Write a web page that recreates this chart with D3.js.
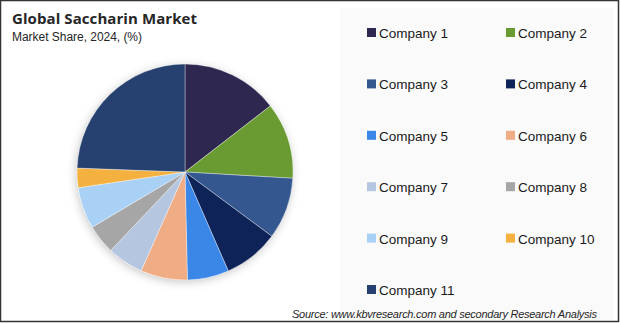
<!DOCTYPE html>
<html>
<head>
<meta charset="utf-8">
<script src="https://cdn.jsdelivr.net/npm/d3@7"></script>
<style>
  body { margin: 0; background: #fff; }
  svg { display: block; }
</style>
</head>
<body>
<script>
// market share values (percent)
var companies = ["Company 1", "Company 2", "Company 3", "Company 4", "Company 5", "Company 6",
                 "Company 7", "Company 8", "Company 9", "Company 10", "Company 11"];
var shares = [14.5, 11.4, 9.2, 8.3, 6.2, 7.0, 5.4, 4.4, 6.2, 2.9, 24.4];
var colors = ["#2e2750", "#6a9a32", "#34578f", "#0e2358", "#3a87e8", "#f0ad85",
              "#b5c6e0", "#a6a6a6", "#a9d0f5", "#f4b13f", "#26416f"];

var width = 620, height = 323;

var data = companies.map(function(c, i) { return { name: c, value: shares[i], color: colors[i] }; });

var svg = d3.select("body").append("svg")
    .attr("width", width)
    .attr("height", height);

var defs = svg.append("defs");
var f = defs.append("filter").attr("id", "shadow")
    .attr("x", "-20%").attr("y", "-20%").attr("width", "140%").attr("height", "140%");
f.append("feDropShadow").attr("dx", -1).attr("dy", 2)
    .attr("stdDeviation", 5).attr("flood-color", "#000").attr("flood-opacity", 0.22);

// legend panel
svg.append("rect")
    .attr("x", 340).attr("y", 8).attr("width", 274).attr("height", 312)
    .attr("fill", "#fafafa");

// title
svg.append("text")
    .attr("x", 12).attr("y", 24)
    .style("font-family", "'Open Sans', 'Liberation Sans', sans-serif")
    .style("font-weight", "bold")
    .style("font-size", "15px")
    .attr("fill", "#262626")
    .attr("textLength", 185)
    .text("Global Saccharin Market");

svg.append("text")
    .attr("x", 12).attr("y", 41)
    .style("font-family", "'Liberation Sans', sans-serif")
    .style("font-size", "12px")
    .attr("fill", "#262626")
    .attr("textLength", 130)
    .text("Market Share, 2024, (%)");

// pie
var radius = 108;
var pie = d3.pie().sort(null).value(function(d) { return d.value; });
var arc = d3.arc().innerRadius(0).outerRadius(radius);

var g = svg.append("g")
    .attr("transform", "translate(185,172)");

g.append("circle").attr("r", radius).attr("fill", "#fff").attr("filter", "url(#shadow)");

g.selectAll("path")
  .data(pie(data))
  .enter().append("path")
    .attr("d", arc)
    .attr("fill", function(d) { return d.data.color; })
    .attr("stroke", "rgba(255,255,255,0.45)")
    .attr("stroke-width", 0.8);

// legend, 2 columns
var legend = svg.append("g").selectAll("g")
  .data(data)
  .enter().append("g")
    .attr("transform", function(d, i) {
      var col = i % 2, row = Math.floor(i / 2);
      return "translate(" + (367 + col * 139) + "," + (33 + row * 51.4) + ")";
    });

legend.append("rect")
    .attr("x", 0).attr("y", -5)
    .attr("width", 9).attr("height", 9)
    .attr("fill", function(d) { return d.color; });

legend.append("text")
    .attr("x", 12).attr("y", 5)
    .style("font-family", "'Liberation Sans', sans-serif")
    .style("font-size", "13.5px")
    .attr("fill", "#1a1a1a")
    .text(function(d) { return d.name; });

// source
svg.append("text")
    .attr("x", 292).attr("y", 318)
    .style("font-family", "'Liberation Sans', sans-serif")
    .style("font-style", "italic")
    .style("font-size", "11px")
    .attr("fill", "#262626")
    .attr("textLength", 305)
    .text("Source: www.kbvresearch.com and secondary Research Analysis");

// outer frame
svg.append("rect")
    .attr("x", 0.5).attr("y", 0.5).attr("width", width - 2).attr("height", height - 2)
    .attr("fill", "none").attr("stroke", "#333").attr("stroke-width", 1.5);
</script>
</body>
</html>
